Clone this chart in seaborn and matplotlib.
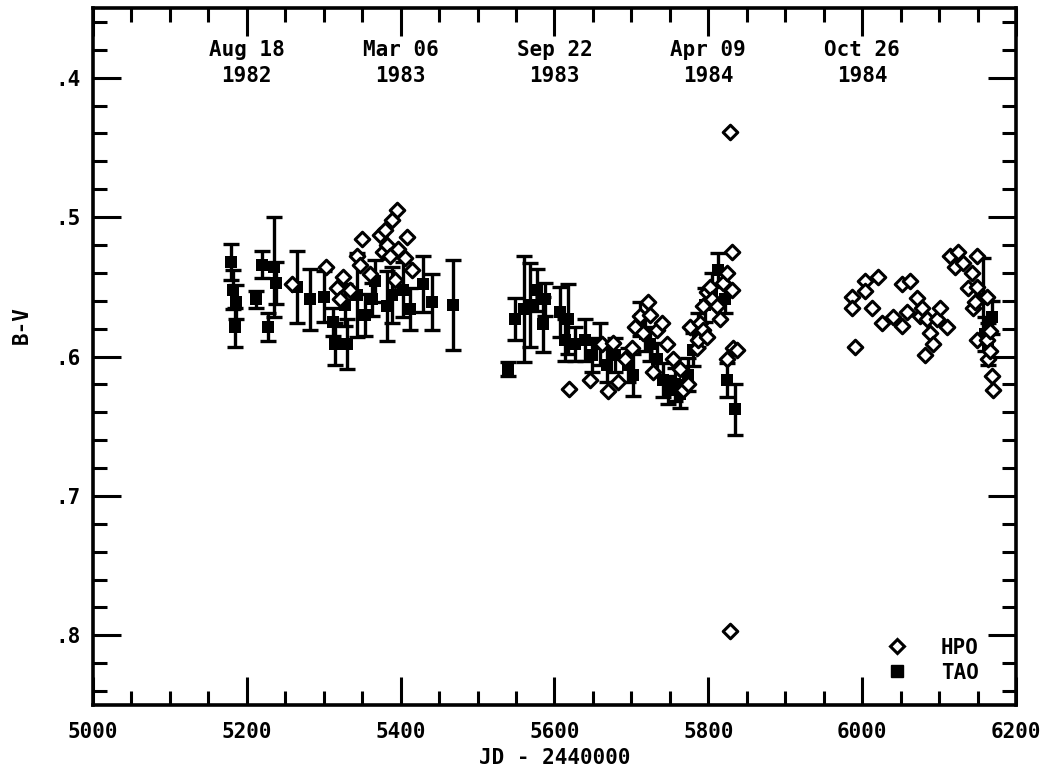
import numpy as np
import pandas as pd
import matplotlib
matplotlib.use("Agg")
import matplotlib.pyplot as plt
from matplotlib.ticker import MultipleLocator, FuncFormatter
from matplotlib.lines import Line2D
import seaborn as sns

# ---------------- data ----------------
tao_jd = [5179, 5182, 5186, 5185, 5212, 5220, 5227, 5235, 5238, 5265, 5282, 5300,
          5312, 5315, 5330, 5328, 5343, 5354, 5363, 5367, 5382, 5389, 5403, 5412,
          5429, 5441, 5468,
          5540, 5549, 5560, 5568, 5577, 5585, 5588, 5607, 5614, 5618, 5627, 5640,
          5649, 5659, 5668, 5679, 5696, 5702, 5711, 5718, 5724, 5733, 5741, 5747,
          5757, 5763, 5773, 5780, 5786, 5796, 5805, 5813, 5822, 5824, 5835,
          6157, 6160, 6164, 6169]
tao_bv = [0.532, 0.552, 0.561, 0.579, 0.559, 0.534, 0.579, 0.536, 0.547, 0.550, 0.559, 0.557,
          0.575, 0.591, 0.591, 0.563, 0.556, 0.570, 0.559, 0.546, 0.564, 0.556, 0.552, 0.566,
          0.548, 0.561, 0.563,
          0.609, 0.573, 0.566, 0.563, 0.552, 0.577, 0.559, 0.568, 0.588, 0.573, 0.591, 0.588,
          0.599, 0.591, 0.606, 0.599, 0.606, 0.613, 0.573, 0.584, 0.591, 0.602, 0.617, 0.624,
          0.620, 0.627, 0.613, 0.595, 0.581, 0.563, 0.552, 0.538, 0.559, 0.617, 0.638,
          0.559, 0.584, 0.591, 0.572]
tao_err = [0.013, 0.014, 0.012, 0.014, 0.006, 0.010, 0.010, 0.036, 0.015, 0.026, 0.022, 0.018,
           0.010, 0.015, 0.018, 0.015, 0.030, 0.015, 0.012, 0.015, 0.025, 0.020, 0.020, 0.015,
           0.020, 0.020, 0.032,
           0.005, 0.015, 0.038, 0.030, 0.015, 0.020, 0.012, 0.018, 0.015, 0.025, 0.012, 0.015,
           0.012, 0.015, 0.012, 0.012, 0.012, 0.015, 0.012, 0.012, 0.012, 0.012, 0.012, 0.010,
           0.012, 0.010, 0.012, 0.012, 0.012, 0.012, 0.012, 0.012, 0.010, 0.012, 0.018,
           0.030, 0.012, 0.015, 0.012]

hpo_jd = [5259, 5303, 5317, 5325, 5321, 5334, 5343, 5347, 5350, 5360, 5373, 5380,
          5377, 5382, 5386, 5389, 5395, 5397, 5406, 5408, 5393, 5415,
          5619, 5646, 5662, 5670, 5676, 5683, 5692, 5701, 5705, 5711, 5715, 5722,
          5724, 5728, 5733, 5740, 5746, 5754, 5763, 5767, 5774, 5776, 5785, 5787,
          5789, 5793, 5793, 5798, 5798, 5802, 5805, 5811, 5819, 5824, 5831, 5831,
          5832, 5824, 5837, 5828, 5828, 5815,
          5987, 5987, 5991, 6004, 6004, 6013, 6021, 6026, 6040, 6052, 6052, 6058,
          6062, 6071, 6075, 6078, 6082, 6084, 6088, 6092, 6097, 6101, 6110, 6114,
          6121, 6124, 6131, 6137, 6143, 6144, 6147, 6149, 6149, 6149, 6162, 6162,
          6164, 6166, 6166, 6169, 6170]
hpo_bv = [0.548, 0.536, 0.551, 0.543, 0.559, 0.552, 0.528, 0.534, 0.516, 0.541, 0.513, 0.509,
          0.525, 0.520, 0.528, 0.502, 0.495, 0.523, 0.529, 0.514, 0.545, 0.538,
          0.623, 0.617, 0.591, 0.625, 0.590, 0.618, 0.602, 0.594, 0.579, 0.571, 0.583, 0.561,
          0.570, 0.611, 0.581, 0.576, 0.591, 0.602, 0.609, 0.624, 0.620, 0.579, 0.594, 0.588,
          0.576, 0.564, 0.581, 0.554, 0.586, 0.550, 0.559, 0.564, 0.547, 0.540, 0.525, 0.552,
          0.594, 0.602, 0.595, 0.439, 0.797, 0.573,
          0.557, 0.565, 0.593, 0.546, 0.553, 0.565, 0.543, 0.576, 0.572, 0.548, 0.578, 0.568,
          0.546, 0.558, 0.571, 0.565, 0.599, 0.573, 0.583, 0.591, 0.573, 0.565, 0.579, 0.528,
          0.536, 0.525, 0.533, 0.551, 0.540, 0.565, 0.561, 0.528, 0.550, 0.588, 0.557, 0.588,
          0.602, 0.582, 0.596, 0.614, 0.624]

date_jd = [5200, 5400, 5600, 5800, 6000]
date_labels = ["Aug 18\n1982", "Mar 06\n1983", "Sep 22\n1983", "Apr 09\n1984", "Oct 26\n1984"]

x_ticks = [5000, 5200, 5400, 5600, 5800, 6000, 6200]
y_ticks = [0.4, 0.5, 0.6, 0.7, 0.8]

tao = pd.DataFrame({"jd": tao_jd, "bv": tao_bv, "err": tao_err})
hpo = pd.DataFrame({"jd": hpo_jd, "bv": hpo_bv})

# ---------------- style ----------------
sns.set_theme(style="ticks")
plt.rcParams["font.family"] = ["DejaVu Sans Mono", "DejaVu Sans"]
plt.rcParams["font.weight"] = "bold"
plt.rcParams["text.color"] = "black"

fig = plt.figure(figsize=(10.46, 7.72), dpi=100)
ax = fig.add_axes([0.0889, 0.0868, 0.8824, 0.9028])

# TAO error bars + squares
ax.errorbar(tao["jd"], tao["bv"], yerr=tao["err"], fmt="none", ecolor="black",
            elinewidth=2.4, capsize=5.5, capthick=2.4, zorder=2)
sns.scatterplot(data=tao, x="jd", y="bv", marker="s", s=85, color="black",
                edgecolor="black", linewidth=0, ax=ax, zorder=3)
# HPO diamonds
sns.scatterplot(data=hpo, x="jd", y="bv", marker="D", s=55, facecolor="white",
                edgecolor="black", linewidth=2.2, ax=ax, zorder=4)

ax.set_xlim(5000, 6200)
ax.set_ylim(0.85, 0.35)

ax.set_xticks(x_ticks)
ax.set_yticks(y_ticks)
ax.xaxis.set_minor_locator(MultipleLocator(50))
ax.yaxis.set_minor_locator(MultipleLocator(0.02))
ax.yaxis.set_major_formatter(FuncFormatter(lambda v, p: f"{v:.1f}".lstrip("0")))

ax.tick_params(which="both", direction="in", top=True, right=True, color="black",
               labelsize=15, labelcolor="black")
ax.tick_params(which="major", length=20, width=2.2)
ax.tick_params(which="minor", length=10, width=2.2)
ax.tick_params(axis="x", which="major", pad=12)
ax.tick_params(axis="y", which="major", pad=9)
for lab in ax.get_xticklabels() + ax.get_yticklabels():
    lab.set_fontweight("bold")

for sp in ax.spines.values():
    sp.set_linewidth(2.6)
    sp.set_color("black")

ax.set_xlabel("JD - 2440000", fontsize=15, fontweight="bold", color="black")
ax.set_ylabel("B-V", fontsize=15, fontweight="bold", color="black")
ax.xaxis.set_label_coords(0.5, -0.062)
ax.yaxis.set_label_coords(-0.066, 0.545)

for jd, lab in zip(date_jd, date_labels):
    ax.text(jd, 0.921, lab, transform=ax.get_xaxis_transform(), ha="center",
            va="center", fontsize=15, fontweight="bold", linespacing=1.4, color="black")

handles = [
    Line2D([], [], marker="D", linestyle="none", markerfacecolor="white",
           markeredgecolor="black", markeredgewidth=2.2, markersize=7.2),
    Line2D([], [], marker="s", linestyle="none", markerfacecolor="black",
           markeredgecolor="black", markersize=9),
]
ax.legend(handles, ["HPO", "TAO"], loc="lower right", bbox_to_anchor=(0.98, 0.005),
          frameon=False, handlelength=1.0, handletextpad=1.6, labelspacing=0.25,
          labelcolor="black",
          prop={"family": "DejaVu Sans Mono", "weight": "bold", "size": 15})

fig.savefig("out.png", dpi=100)
